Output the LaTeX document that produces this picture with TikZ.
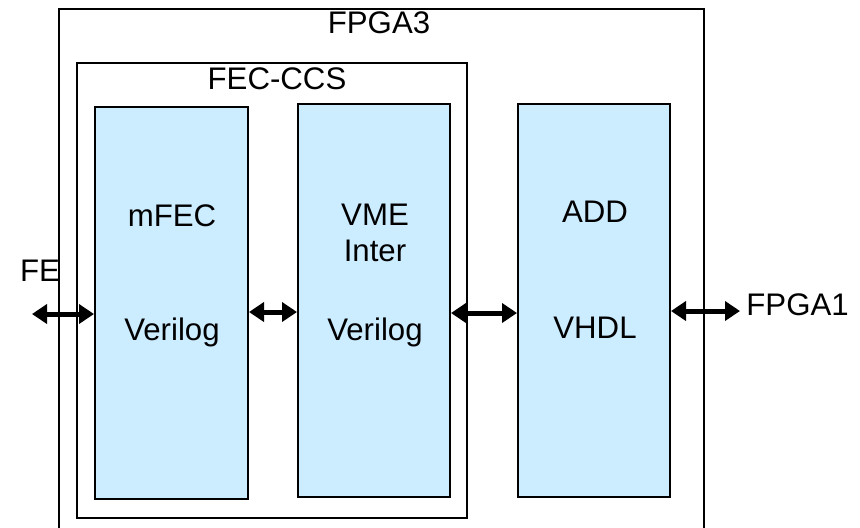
\documentclass[tikz,border=0pt]{standalone}
\usepackage{fontspec}
\setmainfont{Liberation Sans}
\usetikzlibrary{positioning,calc,arrows.meta}
\definecolor{boxblue}{HTML}{CCECFF}
\tikzset{font=\fontsize{15.6}{18}\selectfont}

\begin{document}
\begin{tikzpicture}[x=0.5pt,y=-0.5pt]
	\useasboundingbox (0,0) rectangle (860,527);
	\begin{scope}
		\tikzstyle{block}=[draw, line width=1pt, fill=boxblue, inner sep=0pt, minimum width=76pt, minimum height=196.5pt]
		\tikzstyle{biarrow}=[{Triangle[length=7.5pt,width=9.5pt]}-{Triangle[length=7.5pt,width=9.5pt]}, line width=2.5pt]
		\tikzstyle{every node}=[align=center, inner sep=1pt]

		% outer fpga, runs off the bottom
		\draw[line width=1pt] (59,540) -- (59,9) -- (704,9) -- (704,540);
		\node (fpga3) at (379,22.5) {FPGA3};

		\node[draw, line width=1pt, minimum width=195pt, minimum height=227.5pt, inner sep=0pt] (fecccs) at (272,290.5) {};
		\node (fecccslbl) at (277,79) {FEC-CCS};

		\node[block, minimum width=76.5pt, minimum height=196pt] (mfec) at (171.5,303) {};
		\node[block] (vme) at (374,300.5) {};
		\node[block] (add) at (594,300.5) {};

		\node (mfec1) at (172,216) {mFEC};
		\node (mfec2) at (172,332) {Verilog};
		\node (vme1) at (375,215) {VME};
		\node (vme2) at (375,251) {Inter};
		\node (vme3) at (375,332) {Verilog};
		\node (add1) at (595,212) {ADD};
		\node (add2) at (595,328) {VHDL};

		\node (fe) at (40,271) {FE};
		\node[anchor=west] (fpga1) at (744,305) {FPGA1};
		\coordinate (feend) at (32,314);
		\coordinate (fpga1end) at (740,311);

		\draw[biarrow] (feend) -- (mfec.west |- feend);
		\draw[biarrow] (mfec.east |- 0,312) -- (vme.west |- 0,312);
		\draw[biarrow] (vme.east |- 0,313) -- (add.west |- 0,313);
		\draw[biarrow] (add.east |- fpga1end) -- (fpga1end);
	\end{scope}
\end{tikzpicture}
\end{document}
